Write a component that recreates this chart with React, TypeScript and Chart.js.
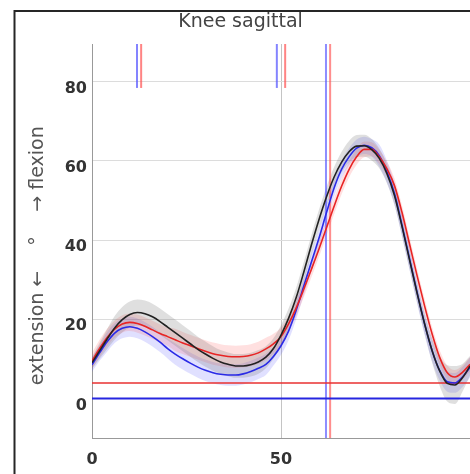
import React, { useEffect, useRef } from "react";
import { Chart, registerables } from "chart.js";

Chart.register(...registerables);

// gait cycle (%)
const cycle = [0,2,4,6,8,10,12,14,16,18,20,22,24,26,28,30,32,34,36,38,40,42,44,46,48,50,52,54,56,58,60,62,64,66,68,70,72,74,76,78,80,82,84,86,88,90,92,94,96,98,100];

// normative (black) mean / sd
const normMean = [9.0,12.0,15.0,17.8,19.9,21.2,21.7,21.4,20.6,19.4,18.0,16.6,15.2,13.8,12.4,11.2,10.1,9.2,8.6,8.2,8.2,8.5,9.2,10.4,12.6,16.0,20.2,25.4,31.8,38.6,45.0,50.8,55.8,59.6,62.3,63.7,63.8,62.8,60.6,56.8,51.3,43.5,35.0,26.6,18.8,12.0,6.9,3.8,3.4,5.2,8.2];
const normSd = [1.5,2.0,2.5,3.0,3.2,3.3,3.3,3.3,3.3,3.3,3.3,3.3,3.3,3.3,3.2,3.2,3.1,3.0,3.0,3.0,3.0,3.0,3.0,2.8,2.6,2.5,2.5,2.5,2.5,2.5,2.5,2.5,2.5,2.6,2.7,2.8,2.8,2.7,2.5,2.4,2.4,2.4,2.4,2.4,2.5,3.0,3.8,4.6,4.8,3.5,2.5];

// left (red) mean / sd
const leftMean = [9.5,12.6,15.4,17.5,18.8,19.2,18.9,18.2,17.3,16.4,15.6,14.8,14.0,13.3,12.6,11.9,11.3,10.9,10.6,10.5,10.6,10.9,11.5,12.5,13.8,15.6,18.8,22.8,27.5,32.5,37.6,43.0,48.4,53.5,57.8,61.0,62.9,62.9,61.0,58.0,53.8,47.0,39.0,31.0,23.3,16.2,10.3,6.5,5.4,6.6,8.6];
const leftSd = [2.0,2.2,2.2,2.2,2.2,2.2,2.3,2.3,2.3,2.3,2.3,2.8,2.8,2.8,2.8,2.8,2.8,2.8,2.8,2.8,2.8,2.8,2.8,2.8,2.5,2.3,2.0,2.0,2.0,2.0,2.0,2.0,2.0,2.0,2.0,2.0,2.0,1.8,1.8,1.8,1.8,1.8,1.8,1.8,1.8,1.8,1.8,1.8,1.8,1.8,1.8];

// right (blue) mean / sd
const rightMean = [8.5,11.5,14.3,16.5,17.7,18.1,17.7,16.8,15.6,14.2,12.6,11.2,10.0,8.9,7.9,7.1,6.5,6.1,5.9,5.9,6.2,6.8,7.6,8.6,10.6,13.3,17.0,22.2,28.3,34.3,40.3,46.8,53.0,57.8,61.0,63.2,63.9,63.3,61.3,57.3,51.8,43.8,35.3,26.8,18.8,12.0,7.0,4.2,3.9,5.4,7.8];
const rightSd = [1.8,2.0,2.5,2.5,2.5,2.5,2.5,2.5,2.5,2.5,2.5,2.7,2.7,2.7,2.7,2.7,2.7,2.7,2.7,2.7,2.7,2.7,2.7,2.7,2.3,2.3,2.3,2.3,2.3,2.3,2.3,2.2,2.2,2.2,2.2,2.2,2.2,2.2,2.8,2.8,2.8,2.8,2.8,2.8,2.8,2.8,2.5,2.5,2.5,2.5,2.5];

// events (% cycle)
const leftFootOff = 63.0;
const rightFootOff = 61.9;
const leftOppositeEvents = [13.0, 51.1];
const rightOppositeEvents = [11.9, 48.9];
const leftOffset = 3.9;
const rightOffset = 0;

const yTicks = [0, 20, 40, 60, 80];
const xTicks = [0, 50];
const yMin = -10;
const yMax = 89.5;
const markTop = 78.4;

const pts = (ys: number[]) => cycle.map((x, i) => ({ x, y: ys[i] }));
const band = (m: number[], s: number[], sign: number) => m.map((v, i) => v + sign * s[i]);

const framePlugin = {
  id: "framePlugin",
  afterDraw(chart: any) {
    const ctx = chart.ctx;
    ctx.save();
    ctx.strokeStyle = "#262626";
    ctx.lineWidth = 2;
    ctx.beginPath();
    ctx.moveTo(14.5, 474);
    ctx.lineTo(14.5, 11);
    ctx.lineTo(470, 11);
    ctx.stroke();

    ctx.fillStyle = "#444";
    ctx.font = "19px 'DejaVu Sans'";
    ctx.textAlign = "center";
    ctx.textBaseline = "alphabetic";
    ctx.fillText("Knee sagittal", 240.5, 27);

    ctx.translate(43, 0);
    ctx.rotate(-Math.PI / 2);
    ctx.fillStyle = "#555";
    ctx.font = "19px 'DejaVu Sans'";
    ctx.textAlign = "center";
    ctx.fillText("extension \u2190", -328, 0);
    ctx.fillText("\u00b0", -241, 0);
    ctx.fillText("\u2192 flexion", -169, 0);
    ctx.restore();
  },
};

export default function App() {
  const ref = useRef<HTMLCanvasElement | null>(null);

  useEffect(() => {
    if (!ref.current) return;
    const bandDs = (data: number[], color: string, fill: any, order: number) => ({
      data: pts(data),
      borderWidth: 0,
      pointRadius: 0,
      backgroundColor: color,
      fill,
      cubicInterpolationMode: "monotone",
      order,
    });
    const lineDs = (data: any[], color: string, width: number, order: number, mono = true) => ({
      data,
      borderColor: color,
      borderWidth: width,
      pointRadius: 0,
      fill: false,
      cubicInterpolationMode: mono ? "monotone" : "default",
      tension: 0,
      order,
    });
    const vline = (x: number, y0: number, y1: number, color: string) =>
      lineDs([{ x, y: y0 }, { x, y: y1 }], color, 2, 20, false);

    const datasets: any[] = [
      bandDs(band(normMean, normSd, 1), "rgba(110,110,110,0.22)", "+1", 50),
      bandDs(band(normMean, normSd, -1), "rgba(0,0,0,0)", false, 50),
      bandDs(band(leftMean, leftSd, 1), "rgba(255,60,60,0.16)", "+1", 50),
      bandDs(band(leftMean, leftSd, -1), "rgba(0,0,0,0)", false, 50),
      bandDs(band(rightMean, rightSd, 1), "rgba(60,60,255,0.16)", "+1", 50),
      bandDs(band(rightMean, rightSd, -1), "rgba(0,0,0,0)", false, 50),
      lineDs(pts(rightMean), "#2a2ae6", 1.6, 3),
      lineDs(pts(leftMean), "#e82424", 1.6, 2),
      lineDs(pts(normMean), "#222222", 1.6, 1),
      lineDs([{ x: 0, y: leftOffset }, { x: 100, y: leftOffset }], "#e83030", 1.6, 10, false),
      lineDs([{ x: 0, y: rightOffset }, { x: 100, y: rightOffset }], "#2626e0", 2, 10, false),
      vline(rightFootOff, yMin, yMax, "rgba(80,80,255,0.65)"),
      vline(leftFootOff, yMin, yMax, "rgba(255,80,80,0.65)"),
      ...rightOppositeEvents.map((x) => vline(x, markTop, yMax, "rgba(80,80,255,0.7)")),
      ...leftOppositeEvents.map((x) => vline(x, markTop, yMax, "rgba(255,80,80,0.7)")),
    ];

    const chart = new Chart(ref.current, {
      type: "line",
      data: { datasets },
      plugins: [framePlugin],
      options: {
        animation: false,
        responsive: false,
        devicePixelRatio: 1,
        layout: { padding: { left: 0, top: 44, right: 0, bottom: 0 } },
        plugins: {
          legend: { display: false },
          title: { display: false },
          tooltip: { enabled: false },
        },
        scales: {
          x: {
            type: "linear",
            min: 0,
            max: 100,
            afterBuildTicks: (s: any) => {
              s.ticks = xTicks.map((v) => ({ value: v }));
            },
            afterFit: (s: any) => {
              s.height = 36;
              s.paddingLeft = 0;
              s.paddingRight = 0;
            },
            grid: { color: "#c4c4c4", drawTicks: false },
            border: { color: "#999" },
            ticks: {
              padding: 12,
              maxRotation: 0,
              color: "#333",
              font: { family: "DejaVu Sans", size: 16, weight: "bold" },
            },
          },
          y: {
            type: "linear",
            min: yMin,
            max: yMax,
            afterBuildTicks: (s: any) => {
              s.ticks = yTicks.map((v) => ({ value: v }));
            },
            afterFit: (s: any) => {
              s.width = 92;
              s.paddingTop = 0;
              s.paddingBottom = 0;
            },
            grid: { color: "#dcdcdc", drawTicks: false },
            border: { color: "#999" },
            ticks: {
              padding: 5,
              labelOffset: 7,
              color: "#333",
              font: { family: "DejaVu Sans", size: 16, weight: "bold" },
            },
          },
        },
      } as any,
    });
    return () => chart.destroy();
  }, []);

  return (
    <div style={{ position: "fixed", left: 0, top: 0, width: 470, height: 474, background: "#fff" }}>
      <canvas ref={ref} width={470} height={474} style={{ display: "block" }} />
    </div>
  );
}
